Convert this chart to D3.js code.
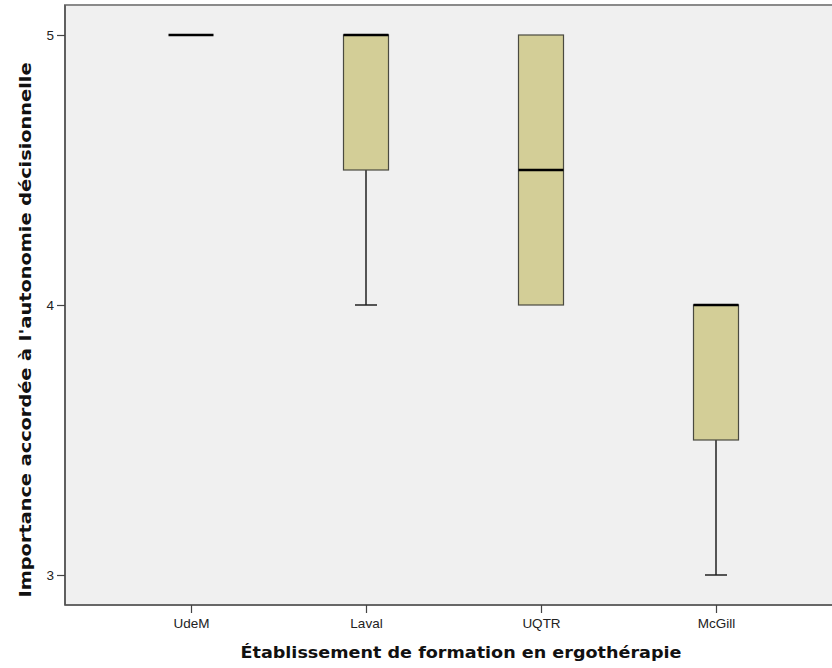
<!DOCTYPE html>
<html>
<head>
<meta charset="utf-8">
<script src="https://cdn.jsdelivr.net/npm/d3@7"></script>
<style>
  body { margin: 0; background: #fff; }
</style>
</head>
<body>
<script>
const dimensions = {
    width: 832,
    height: 668
}

// box plot statistics
const categories = ['UdeM', 'Laval', 'UQTR', 'McGill']
const mins = [5, 4, 4, 3]
const q1s = [5, 4.5, 4, 3.5]
const medians = [5, 5, 4.5, 4]
const q3s = [5, 5, 5, 4]
const maxs = [5, 5, 5, 4]
const yTicks = [3, 4, 5]

const boxes = categories.map(function (c, i) {
    return { cat: c, min: mins[i], q1: q1s[i], med: medians[i], q3: q3s[i], max: maxs[i] }
})

const plot = { left: 65, top: 5, right: 842, bottom: 605 }

const svg = d3.select('body').append('svg')
    .attr('width', dimensions.width)
    .attr('height', dimensions.height)

const x = d3.scalePoint()
    .domain(categories)
    .range([plot.left, plot.right])
    .padding(0.72)

const y = d3.scaleLinear()
    .domain([3, 5])
    .range([575, 35])

// plot background
svg.append('rect')
    .attr('x', plot.left)
    .attr('y', plot.top)
    .attr('width', plot.right - plot.left)
    .attr('height', plot.bottom - plot.top)
    .attr('fill', '#f0f0f0')
    .attr('stroke', '#8a8a8a')
    .attr('stroke-width', 2)

const boxW = 45
const capW = 22

const g = svg.append('g')

const box = g.selectAll('.box')
    .data(boxes)
    .enter()
    .append('g')
    .attr('class', 'box')

// whiskers
box.filter(d => d.max > d.q3).append('line')
    .attr('x1', d => x(d.cat)).attr('x2', d => x(d.cat))
    .attr('y1', d => y(d.max)).attr('y2', d => y(d.q3))
    .attr('stroke', '#222').attr('stroke-width', 1.5)
box.filter(d => d.max > d.q3).append('line')
    .attr('x1', d => x(d.cat) - capW / 2).attr('x2', d => x(d.cat) + capW / 2)
    .attr('y1', d => y(d.max)).attr('y2', d => y(d.max))
    .attr('stroke', '#222').attr('stroke-width', 1.5)
box.filter(d => d.min < d.q1).append('line')
    .attr('x1', d => x(d.cat)).attr('x2', d => x(d.cat))
    .attr('y1', d => y(d.q1)).attr('y2', d => y(d.min))
    .attr('stroke', '#222').attr('stroke-width', 1.5)
box.filter(d => d.min < d.q1).append('line')
    .attr('x1', d => x(d.cat) - capW / 2).attr('x2', d => x(d.cat) + capW / 2)
    .attr('y1', d => y(d.min)).attr('y2', d => y(d.min))
    .attr('stroke', '#222').attr('stroke-width', 1.5)

// boxes
box.filter(d => d.q3 > d.q1).append('rect')
    .attr('x', d => x(d.cat) - boxW / 2)
    .attr('y', d => y(d.q3))
    .attr('width', boxW)
    .attr('height', d => y(d.q1) - y(d.q3))
    .attr('fill', '#d3ce97')
    .attr('stroke', '#4a4a40')
    .attr('stroke-width', 1.2)

// medians
box.append('line')
    .attr('x1', d => x(d.cat) - boxW / 2).attr('x2', d => x(d.cat) + boxW / 2)
    .attr('y1', d => y(d.med)).attr('y2', d => y(d.med))
    .attr('stroke', '#000').attr('stroke-width', 2.5)

// axes
const yAxis = svg.append('g')
    .attr('transform', 'translate(' + plot.left + ',0)')
    .call(d3.axisLeft(y).tickValues(yTicks).tickSize(8).tickPadding(3).tickFormat(d3.format('d')))
yAxis.select('.domain').attr('d', 'M0,' + plot.top + 'V' + plot.bottom).attr('stroke', '#444').attr('stroke-width', 1.2)

const xAxis = svg.append('g')
    .attr('transform', 'translate(0,' + plot.bottom + ')')
    .call(d3.axisBottom(x).tickSize(8).tickPadding(5))
xAxis.select('.domain').attr('d', 'M' + plot.left + ',0H' + plot.right).attr('stroke', '#444').attr('stroke-width', 1.2)

svg.selectAll('.tick line').attr('stroke', '#444').attr('stroke-width', 1.2)
svg.selectAll('.tick text')
    .attr('font-family', 'Liberation Sans, Arial, sans-serif')
    .attr('font-size', 13.5)
    .attr('fill', '#222')

// axis titles
svg.append('text')
    .attr('x', 461)
    .attr('y', 658)
    .attr('text-anchor', 'middle')
    .attr('font-family', 'DejaVu Sans, sans-serif')
    .attr('font-weight', 'bold')
    .attr('font-size', 16)
    .attr('textLength', 441)
    .attr('lengthAdjust', 'spacingAndGlyphs')
    .attr('fill', '#111')
    .text('Établissement de formation en ergothérapie')

svg.append('text')
    .attr('transform', 'translate(31,330) rotate(-90)')
    .attr('text-anchor', 'middle')
    .attr('font-family', 'DejaVu Sans, sans-serif')
    .attr('font-weight', 'bold')
    .attr('font-size', 16)
    .attr('textLength', 535)
    .attr('lengthAdjust', 'spacingAndGlyphs')
    .attr('fill', '#111')
    .text("Importance accordée à l'autonomie décisionnelle")
</script>
</body>
</html>
